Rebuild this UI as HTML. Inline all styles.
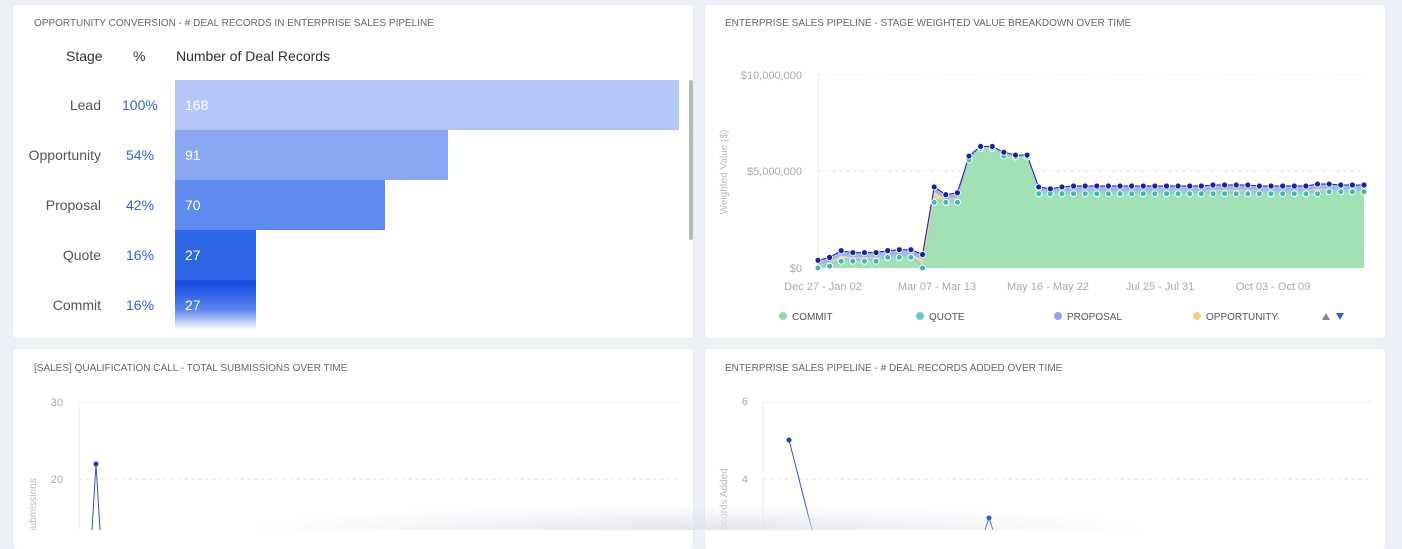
<!DOCTYPE html>
<html><head><meta charset="utf-8"><style>
body{margin:0;width:1402px;height:530px;background:#eef0f8;font-family:"Liberation Sans",sans-serif;position:relative;overflow:hidden}
.card{position:absolute;background:#fff;border-radius:4px;box-shadow:0 0 2px rgba(0,0,0,.06)}
.t{position:absolute;font-size:10px;color:#666;letter-spacing:0}
.lbl{position:absolute;font-size:14px;color:#555;text-align:right;width:90px}
.pct{position:absolute;font-size:14px;color:#2f62e6;left:122px}
.bar{position:absolute;left:175px;height:50px;color:#fff;font-size:14px;line-height:50px;padding-left:10px;box-sizing:border-box}
</style></head><body>
<div class="card" style="left:13px;top:5px;width:680px;height:333px"></div>
<div class="card" style="left:705px;top:5px;width:680px;height:333px"></div>
<div class="card" style="left:13px;top:349px;width:680px;height:200px"></div>
<div class="card" style="left:705px;top:349px;width:680px;height:200px"></div>

<div class="t" style="left:34px;top:18px">OPPORTUNITY CONVERSION - # DEAL RECORDS IN ENTERPRISE SALES PIPELINE</div>
<div style="position:absolute;left:66px;top:48px;font-size:14px;color:#333">Stage</div>
<div style="position:absolute;left:133px;top:48px;font-size:14px;color:#333">%</div>
<div style="position:absolute;left:176px;top:48px;font-size:14px;color:#333">Number of Deal Records</div>
<div class="lbl" style="left:11px;top:97px">Lead</div><div class="pct" style="top:97px">100%</div>
<div class="lbl" style="left:11px;top:147px">Opportunity</div><div class="pct" style="top:147px;left:126px">54%</div>
<div class="lbl" style="left:11px;top:197px">Proposal</div><div class="pct" style="top:197px;left:126px">42%</div>
<div class="lbl" style="left:11px;top:247px">Quote</div><div class="pct" style="top:247px;left:126px">16%</div>
<div class="lbl" style="left:11px;top:297px">Commit</div><div class="pct" style="top:297px;left:126px">16%</div>
<div class="bar" style="top:80px;width:504px;background:#b3c6f6">168</div>
<div class="bar" style="top:130px;width:273px;background:#8aa7f1">91</div>
<div class="bar" style="top:180px;width:210px;background:#5f8af0">70</div>
<div class="bar" style="top:230px;width:81px;background:#2e66e8">27</div>
<div class="bar" style="top:280px;width:81px;background:linear-gradient(#1a4fe2 10%,#5d86ee 60%,#fff)">27</div>
<div style="position:absolute;left:689px;top:80px;width:4px;height:160px;background:#b9b9b9;border-radius:2px"></div>

<div class="t" style="left:725px;top:18px">ENTERPRISE SALES PIPELINE - STAGE WEIGHTED VALUE BREAKDOWN OVER TIME</div>
<div class="t" style="left:725px;top:363px">ENTERPRISE SALES PIPELINE - # DEAL RECORDS ADDED OVER TIME</div>
<div class="t" style="left:34px;top:363px">[SALES] QUALIFICATION CALL - TOTAL SUBMISSIONS OVER TIME</div>

<svg id="s" width="1402" height="530" style="position:absolute;left:0;top:0" font-family="Liberation Sans" font-size="11" fill="#aaa"></svg>
<div style="position:absolute;left:250px;top:505px;width:900px;height:25px;background:radial-gradient(ellipse at 50% 100%,rgba(225,227,235,.9),rgba(255,255,255,0) 70%)"></div>
<script>
var s='';
s+='<line x1="818" y1="75" x2="1364" y2="75" stroke="#eee" stroke-dasharray="4 3"/>';
s+='<line x1="818" y1="171" x2="1364" y2="171" stroke="#e6e6e6" stroke-dasharray="4 3"/>';
s+='<line x1="818" y1="75" x2="818" y2="268" stroke="#eee"/>';
s+='<text x="802" y="79" text-anchor="end">$10,000,000</text><text x="802" y="175" text-anchor="end">$5,000,000</text><text x="802" y="272" text-anchor="end">$0</text>';
s+='<text transform="translate(727,172) rotate(-90)" text-anchor="middle" font-size="10" fill="#bbb">Weighted Value ($)</text>';
[['Dec 27 - Jan 02',823],['Mar 07 - Mar 13',937],['May 16 - May 22',1048],['Jul 25 - Jul 31',1160],['Oct 03 - Oct 09',1273]].forEach(function(a){s+='<text x="'+a[1]+'" y="290" text-anchor="middle">'+a[0]+'</text>'});
var tot=[0.4,0.55,0.9,0.8,0.8,0.8,0.9,0.95,0.95,0.7,4.2,3.8,3.9,5.8,6.3,6.3,6.0,5.85,5.85,4.2,4.1,4.2,4.25,4.25,4.25,4.25,4.25,4.25,4.25,4.25,4.25,4.25,4.25,4.25,4.3,4.3,4.3,4.3,4.25,4.25,4.25,4.25,4.25,4.35,4.35,4.3,4.3,4.3];
var com=[0,0.1,0.35,0.35,0.35,0.35,0.55,0.55,0.55,0,3.4,3.4,3.4,5.6,6.2,6.2,5.8,5.75,5.75,3.85];
while(com.length<tot.length)com.push(com.length>43?3.95:3.85);
var n=tot.length,X=function(i){return 818+i*(1364-818)/(n-1)},Y=function(v){return 268-v*19.3};
function area(arr,c){var p='M818,268';arr.forEach(function(v,i){p+='L'+X(i).toFixed(1)+','+Y(v).toFixed(1)});p+='L1364,268Z';return '<path d="'+p+'" fill="'+c+'"/>'}
s+=area(tot,'#9fb5f0');
s+=area(tot.map(function(v,i){return Math.max(com[i],v-0.25)}),'#f3d79a');
s+=area(tot.map(function(v,i){return Math.max(com[i],Math.min(v,com[i]+0.15))}),'#8fd0d0');
s+=area(com,'#a1e1b5');
var pl='';tot.forEach(function(v,i){pl+=(i?'L':'M')+X(i).toFixed(1)+','+Y(v).toFixed(1)});
s+='<path d="'+pl+'" fill="none" stroke="#1b1f9a" stroke-width="1"/>';
tot.forEach(function(v,i){s+='<circle cx="'+X(i)+'" cy="'+Y(com[i])+'" r="3" fill="#40b8b0" stroke="#fff"/><circle cx="'+X(i)+'" cy="'+Y(v)+'" r="3" fill="#1b1fa8" stroke="#fff" stroke-width="0.8"/>'});
[['COMMIT',783,'#8fdca6'],['QUOTE',920,'#6ccac4'],['PROPOSAL',1058,'#8fa8f0'],['OPPORTUNITY',1197,'#f2d27c']].forEach(function(a){s+='<circle cx="'+a[1]+'" cy="316" r="4" fill="'+a[2]+'"/><text x="'+(a[1]+9)+'" y="320" font-size="10" fill="#555">'+a[0]+'</text>'});
s+='<path d="M1322,320 l4,-7 l4,7z" fill="#888"/><path d="M1336,313 l8,0 l-4,7z" fill="#2f62e6"/>';
s+='<line x1="79" y1="402" x2="680" y2="402" stroke="#f0f0f0"/><line x1="79" y1="479" x2="680" y2="479" stroke="#e6e6e6" stroke-dasharray="4 3"/><line x1="79" y1="402" x2="79" y2="530" stroke="#eee"/>';
s+='<text x="63" y="406" text-anchor="end">30</text><text x="63" y="483" text-anchor="end">20</text>';
s+='<text transform="translate(36,535) rotate(-90)" text-anchor="start" font-size="10" fill="#bbb">Submissions</text>';
s+='<path d="M92,530 L96,464 L100,530" fill="none" stroke="#2f4fe0"/><circle cx="96" cy="464" r="2.5" fill="#1b3fc8"/>';
s+='<line x1="763" y1="402" x2="1372" y2="402" stroke="#f0f0f0"/><line x1="763" y1="479" x2="1372" y2="479" stroke="#e6e6e6" stroke-dasharray="4 3"/><line x1="763" y1="402" x2="763" y2="530" stroke="#eee"/>';
s+='<text x="748" y="405" text-anchor="end">6</text><text x="748" y="483" text-anchor="end">4</text>';
s+='<text transform="translate(727,560) rotate(-90)" text-anchor="start" font-size="10" fill="#bbb">Deal Records Added</text>';
s+='<path d="M789,440 L812,530 M985,530 L989,518 L993,530" fill="none" stroke="#2f4fe0"/><circle cx="789" cy="440" r="2.5" fill="#1b3fc8"/><circle cx="989" cy="518" r="2.5" fill="#1b3fc8"/>';
document.getElementById('s').innerHTML=s;
</script>
</body></html>
